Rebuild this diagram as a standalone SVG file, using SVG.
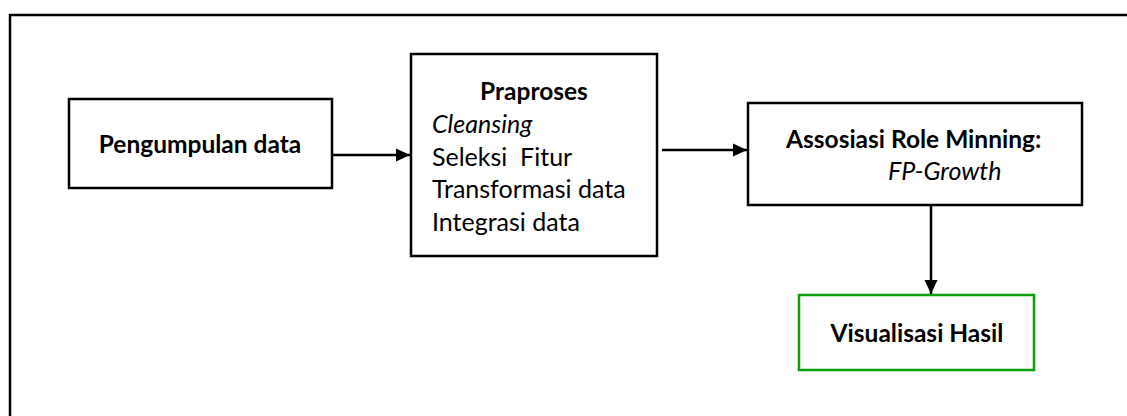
<svg xmlns="http://www.w3.org/2000/svg" width="1127" height="416" viewBox="0 0 1127 416">
<style>
.box{fill:#fff;stroke:#000;stroke-width:2.5}
.green{fill:#fff;stroke:#0a9e0a;stroke-width:2.5}
.b{font-family:Lato,"Liberation Sans",sans-serif;font-weight:bold;font-size:24.5px;fill:#000}
.r{font-family:Lato,"Liberation Sans",sans-serif;font-size:25px;fill:#000}
.i{font-style:italic}
.conn{stroke:#000;stroke-width:2.5;fill:none}
</style>
<defs>
<marker id="ah" markerWidth="14" markerHeight="14" refX="14" refY="7" orient="auto" markerUnits="userSpaceOnUse" viewBox="0 0 14 14">
<path d="M0,0.5 L14,7 L0,13.5 z" fill="#000"/>
</marker>
</defs>
<rect width="1127" height="416" fill="#fff"/>
<path d="M10,416 V15 H1127" fill="none" stroke="#000" stroke-width="2.5"/>
<g id="connectors">
<line class="conn" x1="333" y1="155" x2="410" y2="155" marker-end="url(#ah)"/>
<line class="conn" x1="662" y1="150" x2="747" y2="150" marker-end="url(#ah)"/>
<line class="conn" x1="931" y1="206" x2="931" y2="294" marker-end="url(#ah)"/>
</g>
<g id="pengumpulan">
<rect class="box" x="69" y="99" width="263" height="89"/>
<text class="b" x="200" y="153" text-anchor="middle">Pengumpulan data</text>
</g>
<g id="praproses">
<rect class="box" x="411" y="54" width="246" height="202"/>
<text class="b" x="534" y="100" text-anchor="middle" font-size="28">Praproses</text>
<text class="r i" x="432" y="133">Cleansing</text>
<text class="r" x="432" y="166" xml:space="preserve">Seleksi  Fitur</text>
<text class="r" x="432" y="198">Transformasi data</text>
<text class="r" x="432" y="231">Integrasi data</text>
</g>
<g id="assosiasi">
<rect class="box" x="748" y="103" width="334" height="102"/>
<text class="b" x="786" y="148">Assosiasi Role Minning:</text>
<text class="r i" x="888" y="180">FP-Growth</text>
</g>
<g id="visualisasi">
<rect class="green" x="799" y="295" width="235" height="75"/>
<text class="b" x="917" y="342" text-anchor="middle">Visualisasi Hasil</text>
</g>
</svg>
